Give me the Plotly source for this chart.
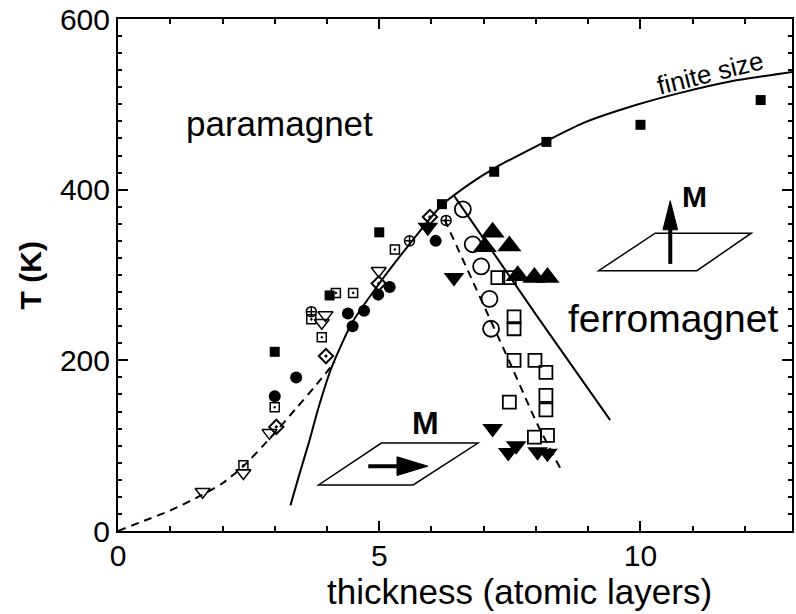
import plotly.graph_objects as go

# ---------------- data ----------------
# finite-size solid curve
fs_x = [3.3, 3.46, 3.65, 3.84, 4.09, 4.47, 5.0, 5.5, 6.2, 6.76, 7.2, 8.2, 8.9, 9.96, 10.8, 11.74, 12.9]
fs_y = [30, 64, 103, 145, 192, 243, 290, 330, 382, 408, 425, 457, 478, 500, 514, 527, 538]
# left dashed curve
ld_x = [0.0, 0.5, 1.0, 1.6, 2.0, 2.4, 2.9, 3.4, 3.75, 4.15]
ld_y = [0, 12, 24, 42, 56, 76, 108, 143, 168, 198]
# right dashed line
rd_x = [6.25, 6.78, 7.13, 7.51, 8.02, 8.47]
rd_y = [365, 294, 247, 196, 126, 73]
# right solid line
rs_x = [6.43, 8.03, 9.42]
rs_y = [393, 251, 130]

# symbols
sq_f_x = [3.0, 4.05, 5.0, 6.2, 7.2, 8.2, 10.0, 12.3]
sq_f_y = [210, 276, 350, 383, 421, 456, 476, 505]

ci_f_x = [3.0, 3.41, 4.4, 4.49, 4.71, 4.98, 5.2, 6.08]
ci_f_y = [158, 180, 255, 240, 258, 277, 286, 340]

sqd_x = [2.4, 3.0, 3.7, 3.9, 4.17, 4.5, 5.3]
sqd_y = [77, 145, 248, 227, 279, 279, 330]

tdo_x = [1.62, 2.4, 2.9, 3.9, 3.97, 4.99]
tdo_y = [46, 68, 115, 244, 253, 305]

dmd_x = [3.03, 3.98, 4.99, 5.97]
dmd_y = [122, 205, 290, 368]

cx_x = [3.7, 5.58, 6.28]
cx_y = [257, 340, 364]

td_f_x = [5.93, 6.43, 7.17, 7.47, 7.62, 8.03, 8.22]
td_f_y = [356, 297, 120, 92, 100, 93, 91]

tu_f_x = [7.02, 7.17, 7.49, 7.65, 7.97, 8.22]
tu_f_y = [333, 350, 334, 299, 297, 297]

ci_o_x = [6.6, 6.79, 6.95, 7.11, 7.14]
ci_o_y = [377, 336, 310, 272, 237]

sq_o_x = [7.27, 7.49, 7.58, 7.58, 7.58, 7.98, 8.19, 8.19, 8.19, 7.49, 7.97, 8.22]
sq_o_y = [297, 297, 251, 237, 200, 200, 186, 159, 142, 151, 110, 112]

FONT = "Liberation Sans, Arial, Helvetica, sans-serif"
K = "black"

fig = go.Figure()

def line(x, y, dash="solid"):
    fig.add_trace(go.Scatter(x=x, y=y, mode="lines",
                             line=dict(color=K, width=2, dash=dash, shape="spline", smoothing=0.6),
                             hoverinfo="skip", showlegend=False))

def pts(x, y, symbol, size, lw=1.5):
    fig.add_trace(go.Scatter(x=x, y=y, mode="markers",
                             marker=dict(symbol=symbol, size=size, color=K,
                                         line=dict(color=K, width=lw)),
                             showlegend=False, cliponaxis=False))

line(fs_x, fs_y)
line(ld_x, ld_y, "8px,6px")
line(rd_x, rd_y, "8px,6px")
line(rs_x, rs_y)

pts(sq_f_x, sq_f_y, "square", 10, 0)
pts(ci_f_x, ci_f_y, "circle", 12, 0)
pts(sqd_x, sqd_y, "square-open-dot", 9)
pts(tdo_x, tdo_y, "triangle-down-open", 13)
pts(dmd_x, dmd_y, "diamond-open-dot", 11, 2)
pts(cx_x, cx_y, "circle-cross-open", 10)
pts(td_f_x, td_f_y, "triangle-down", 18, 0)
pts(tu_f_x, tu_f_y, "triangle-up", 21, 0)
pts(ci_o_x, ci_o_y, "circle-open", 16, 1.8)
pts(sq_o_x, sq_o_y, "square-open", 13, 1.8)

# schematic planes and magnetisation arrows
shapes = [
    dict(type="path", xref="x", yref="y",
         path="M 9.20,305 L 11.08,305 L 12.12,349 L 10.28,349 Z",
         line=dict(color=K, width=1.5), fillcolor="rgba(0,0,0,0)"),
    dict(type="line", xref="x", yref="y", x0=10.57, y0=313, x1=10.57, y1=356,
         line=dict(color=K, width=4)),
    dict(type="path", xref="x", yref="y",
         path="M 10.43,353 L 10.71,353 L 10.57,387 Z",
         line=dict(color=K, width=1), fillcolor=K),
    dict(type="path", xref="x", yref="y",
         path="M 3.84,54 L 5.65,54 L 6.89,103 L 5.04,103 Z",
         line=dict(color=K, width=1.5), fillcolor="rgba(0,0,0,0)"),
    dict(type="line", xref="x", yref="y", x0=4.79, y0=76, x1=5.40, y1=76,
         line=dict(color=K, width=4)),
    dict(type="path", xref="x", yref="y",
         path="M 5.34,65 L 5.34,87 L 5.93,76 Z",
         line=dict(color=K, width=1), fillcolor=K),
]

annotations = [
    dict(x=3.10, y=478, xref="x", yref="y", text="paramagnet", showarrow=False,
         font=dict(family=FONT, size=35, color=K)),
    dict(x=10.63, y=249, xref="x", yref="y", text="ferromagnet", showarrow=False,
         font=dict(family=FONT, size=39, color=K)),
    dict(x=11.33, y=537, xref="x", yref="y", text="finite size", showarrow=False,
         textangle=-14, font=dict(family=FONT, size=26, color=K)),
    dict(x=11.04, y=392, xref="x", yref="y", text="<b>M</b>", showarrow=False,
         font=dict(family=FONT, size=30, color=K)),
    dict(x=5.89, y=127, xref="x", yref="y", text="<b>M</b>", showarrow=False,
         font=dict(family=FONT, size=32, color=K)),
    dict(x=0.595, y=-0.119, xref="paper", yref="paper", xanchor="center", yanchor="middle",
         text="thickness (atomic layers)",
         showarrow=False, font=dict(family=FONT, size=35, color=K)),
    dict(x=-0.130, y=0.50, xref="paper", yref="paper", xanchor="center", yanchor="middle",
         text="<b>T (K)</b>", textangle=-90,
         showarrow=False, font=dict(family=FONT, size=30, color=K)),
]

axis_common = dict(showline=True, linewidth=2, linecolor=K, mirror="ticks",
                   ticks="inside", ticklen=10, tickwidth=2, tickcolor=K,
                   showgrid=False, zeroline=False,
                   tickfont=dict(family=FONT, size=30, color=K))

fig.update_layout(
    width=796, height=614,
    margin=dict(l=118, r=2, t=18, b=83),
    paper_bgcolor="white", plot_bgcolor="white",
    xaxis=dict(range=[0, 12.9], tick0=0, dtick=5, ticklabelstandoff=-3,
               minor=dict(dtick=1, ticks="inside", ticklen=5, tickwidth=1.5, tickcolor=K, showgrid=False),
               **axis_common),
    yaxis=dict(range=[0, 600], tick0=0, dtick=200,
               minor=dict(dtick=20, ticks="inside", ticklen=4, tickwidth=1.5, tickcolor=K, showgrid=False),
               **axis_common),
    shapes=shapes, annotations=annotations,
)

fig.write_html("out.html")
